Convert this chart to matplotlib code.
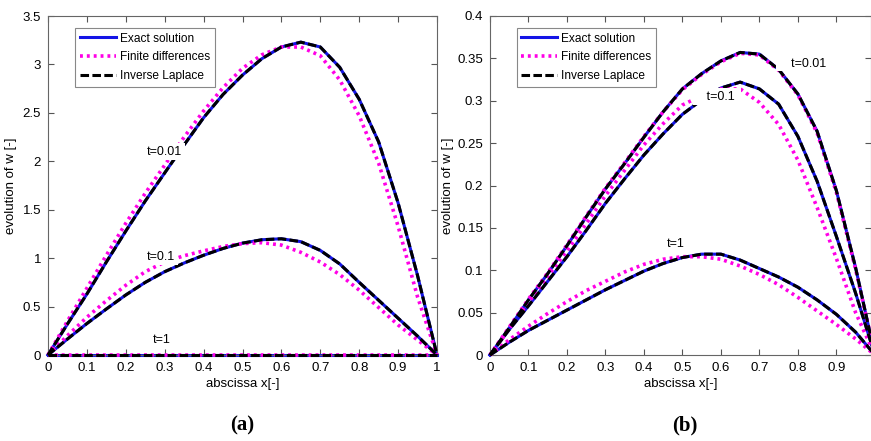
import numpy as np
import matplotlib.pyplot as plt

# abscissa shared by all curves (0 .. 1, step 0.05)
x = [0.0, 0.05, 0.1, 0.15, 0.2, 0.25, 0.3, 0.35, 0.4, 0.45, 0.5,
     0.55, 0.6, 0.65, 0.7, 0.75, 0.8, 0.85, 0.9, 0.95, 1.0]

# panel (a): values
exact_a_001 = [0.0, 0.32, 0.63, 0.96, 1.28, 1.59, 1.88, 2.17, 2.45, 2.69, 2.89,
               3.06, 3.18, 3.23, 3.18, 2.97, 2.64, 2.20, 1.57, 0.82, 0.0]
fd_a_001 = [0.0, 0.35, 0.69, 1.03, 1.36, 1.67, 1.96, 2.25, 2.52, 2.76, 2.96,
            3.10, 3.18, 3.18, 3.09, 2.84, 2.47, 1.98, 1.33, 0.60, 0.0]
exact_a_01 = [0.0, 0.165, 0.325, 0.475, 0.62, 0.75, 0.86, 0.95, 1.03, 1.10, 1.155,
              1.19, 1.20, 1.17, 1.08, 0.94, 0.75, 0.565, 0.38, 0.195, 0.0]
fd_a_01 = [0.0, 0.20, 0.39, 0.56, 0.72, 0.86, 0.96, 1.025, 1.075, 1.12, 1.15,
           1.16, 1.135, 1.06, 0.96, 0.83, 0.67, 0.49, 0.31, 0.155, 0.0]
exact_a_1 = [0.0] * 21
fd_a_1 = [0.0] * 21

# panel (b)
exact_b_001 = [0.0, 0.032, 0.065, 0.096, 0.129, 0.163, 0.196, 0.226, 0.257, 0.287, 0.314,
               0.332, 0.347, 0.357, 0.355, 0.337, 0.308, 0.264, 0.194, 0.103, 0.0]
fd_b_001 = [0.0, 0.033, 0.066, 0.097, 0.130, 0.164, 0.197, 0.227, 0.258, 0.287, 0.313,
            0.331, 0.346, 0.356, 0.354, 0.336, 0.307, 0.262, 0.192, 0.101, 0.0]
exact_b_01 = [0.0, 0.030, 0.058, 0.087, 0.116, 0.147, 0.179, 0.208, 0.236, 0.261, 0.284,
              0.301, 0.315, 0.322, 0.314, 0.296, 0.258, 0.205, 0.140, 0.073, 0.0]
fd_b_01 = [0.0, 0.031, 0.062, 0.093, 0.123, 0.155, 0.188, 0.218, 0.248, 0.273, 0.295,
           0.306, 0.314, 0.314, 0.298, 0.272, 0.230, 0.174, 0.114, 0.050, 0.0]
exact_b_1 = [0.0, 0.015, 0.029, 0.041, 0.053, 0.065, 0.077, 0.088, 0.099, 0.108, 0.115,
             0.119, 0.119, 0.112, 0.102, 0.092, 0.080, 0.065, 0.048, 0.027, 0.0]
fd_b_1 = [0.0, 0.018, 0.034, 0.049, 0.063, 0.076, 0.087, 0.098, 0.107, 0.113, 0.116,
          0.116, 0.113, 0.105, 0.095, 0.083, 0.068, 0.052, 0.036, 0.019, 0.0]

plt.rcParams['font.family'] = ['Liberation Sans', 'DejaVu Sans']

BLUE = '#1414e6'
MAG = '#ff00e6'
dots = (0, (0.8, 1.1))
dashes = (0, (2.8, 1.1))

fig = plt.figure(figsize=(8.71, 4.41), dpi=100)
ax1 = fig.add_axes([48 / 871, 86 / 441, 389 / 871, 339 / 441])
ax2 = fig.add_axes([490 / 871, 86 / 441, 381 / 871, 339 / 441])


def draw(ax, exact, fd):
    for ex, f in zip(exact, fd):
        ax.plot(x, ex, color=BLUE, lw=2.2, zorder=2, clip_on=False)
        ax.plot(x, f, color=MAG, lw=2.6, ls=dots, zorder=3, clip_on=False)
        ax.plot(x, ex, color='black', lw=2.2, ls=dashes, zorder=4, clip_on=False)
    ax.plot([], [], color=BLUE, lw=2.2, label='Exact solution')
    ax.plot([], [], color=MAG, lw=2.6, ls=dots, label='Finite differences')
    ax.plot([], [], color='black', lw=2.2, ls=dashes, label='Inverse Laplace')


draw(ax1, [exact_a_001, exact_a_01, exact_a_1], [fd_a_001, fd_a_01, fd_a_1])
draw(ax2, [exact_b_001, exact_b_01, exact_b_1], [fd_b_001, fd_b_01, fd_b_1])

box = dict(facecolor='white', edgecolor='none', pad=1.5)
ax1.text(0.255, 2.10, 't=0.01', fontsize=9, va='center', bbox=box, zorder=6)
ax1.text(0.255, 1.01, 't=0.1', fontsize=9, va='center', bbox=box, zorder=6)
ax1.text(0.27, 0.155, 't=1', fontsize=9, va='center', zorder=6)
ax2.text(0.745, 0.343, '    t=0.01', fontsize=9, va='center',
         bbox=dict(facecolor='white', edgecolor='none', pad=0.5), zorder=6)
ax2.text(0.535, 0.305, '   t=0.1 ', fontsize=9, va='center',
         bbox=dict(facecolor='white', edgecolor='none', pad=2.0), zorder=6)
ax2.text(0.46, 0.1306, 't=1', fontsize=9, va='center', zorder=6)

ax1.set_xlim(0, 1)
ax1.set_ylim(0, 3.5)
ax1.set_xticks(np.arange(0, 1.01, 0.1))
ax1.set_xticklabels(['0', '0.1', '0.2', '0.3', '0.4', '0.5', '0.6', '0.7', '0.8', '0.9', '1'])
ax1.set_yticks(np.arange(0, 3.51, 0.5))
ax1.set_yticklabels(['0', '0.5', '1', '1.5', '2', '2.5', '3', '3.5'])
ax1.yaxis.set_label_coords(-31 / 389, 0.5)

ax2.set_xlim(0, 0.99)
ax2.set_ylim(0, 0.4)
ax2.set_xticks(np.arange(0, 0.91, 0.1))
ax2.set_xticklabels(['0', '0.1', '0.2', '0.3', '0.4', '0.5', '0.6', '0.7', '0.8', '0.9'])
ax2.set_yticks(np.arange(0, 0.401, 0.05))
ax2.set_yticklabels(['0', '0.05', '0.1', '0.15', '0.2', '0.25', '0.3', '0.35', '0.4'])
ax2.yaxis.set_label_coords(-36 / 381, 0.5)

for ax in (ax1, ax2):
    ax.tick_params(direction='in', top=True, right=True, labelsize=9.5, length=4,
                   color='#555555', pad=5)
    for s in ax.spines.values():
        s.set_color('#666666')
        s.set_linewidth(0.8)
    ax.set_xlabel('abscissa x[-]', fontsize=9.5, labelpad=3)
    ax.set_ylabel('evolution of w [-]', fontsize=9.5)
    leg = ax.legend(loc='upper left', bbox_to_anchor=(0.07, 0.965), borderaxespad=0,
                    fontsize=8.6, fancybox=False, edgecolor='#888888', handlelength=3.0,
                    handletextpad=0.35, borderpad=0.4, labelspacing=0.55, framealpha=1)
    leg.get_frame().set_linewidth(0.8)

fig.text(242 / 871, 1 - 425 / 441, '(a)', fontsize=15, fontweight='bold',
         family='Liberation Serif', ha='center', va='center')
fig.text(685 / 871, 1 - 425 / 441, '(b)', fontsize=15, fontweight='bold',
         family='Liberation Serif', ha='center', va='center')

fig.savefig('out.png', dpi=100)
